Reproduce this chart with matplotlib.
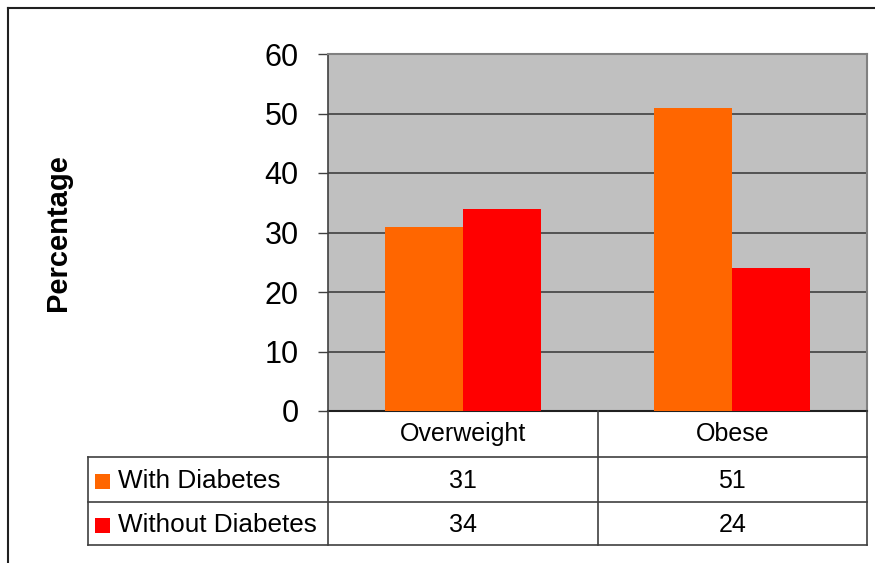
import matplotlib.pyplot as plt
import matplotlib.transforms as mtransforms
from matplotlib.lines import Line2D
from matplotlib.patches import Rectangle

categories = ["Overweight", "Obese"]
series_names = ["With Diabetes", "Without Diabetes"]
with_diabetes = [31, 51]
without_diabetes = [34, 24]
series_values = [with_diabetes, without_diabetes]
series_colors = ["#FF6600", "#FF0000"]
yticks = [0, 10, 20, 30, 40, 50, 60]

plt.rcParams['font.family'] = ['Liberation Sans', 'DejaVu Sans']

W, H = 875, 563
fig = plt.figure(figsize=(W / 100, H / 100), dpi=100, facecolor="white")

# plot area in pixel terms
left, right, top, bottom = 328, 867, 54, 411
ax = fig.add_axes([left / W, (H - bottom) / H, (right - left) / W, (bottom - top) / H])
ax.set_facecolor("#C0C0C0")

x = list(range(len(categories)))
bw = 0.29
offsets = [-bw / 2, bw / 2]
for vals, off, col in zip(series_values, offsets, series_colors):
    ax.bar([i + off for i in x], vals, width=bw, color=col, edgecolor="none", zorder=3)

ax.set_xlim(-0.5, len(categories) - 0.5)
ax.set_ylim(0, 60)
ax.set_yticks(yticks)
ax.set_yticklabels([str(t) for t in yticks], fontsize=22)
ax.tick_params(axis='y', length=7, width=1, color="#404040", pad=14)
ax.set_xticks([])
ax.yaxis.grid(True, color="#404040", linewidth=1.2, zorder=1)
ax.set_axisbelow(True)
for s in ["top", "right"]:
    ax.spines[s].set_color("#808080")
    ax.spines[s].set_linewidth(1.5)
ax.spines["left"].set_color("#404040")
ax.spines["bottom"].set_color("#202020")
ax.spines["left"].set_linewidth(1.2)
ax.spines["bottom"].set_linewidth(1.5)

fig.text(58 / W, (H - 233) / H, "Percentage", rotation=90, ha="center", va="center",
         fontsize=21, fontweight="bold")

# data table below the axes: x from the axes data, y in figure pixels
pix = mtransforms.Affine2D().scale(1 / W, -1 / H).translate(0, 1) + fig.transFigure
blend = mtransforms.blended_transform_factory(ax.transData, pix)
line_kw = dict(color="#404040", linewidth=1.2, clip_on=False)

row_y = [411, 457, 502, 545]
edges = [-0.5 + i for i in range(len(categories) + 1)]
legend_left = 88

# horizontal lines
for y in row_y[1:]:
    fig.add_artist(Line2D([legend_left / W, right / W], [(H - y) / H] * 2,
                          transform=fig.transFigure, **line_kw))
# vertical lines in the table
for e in edges:
    fig.add_artist(Line2D([e, e], [row_y[0], row_y[-1]], transform=blend, **line_kw))
fig.add_artist(Line2D([legend_left / W] * 2, [(H - row_y[1]) / H, (H - row_y[-1]) / H],
                      transform=fig.transFigure, **line_kw))

# header labels
for i, c in enumerate(categories):
    fig.text(i, (row_y[0] + row_y[1]) / 2, c, transform=blend, ha="center",
             va="center", fontsize=18)

# value rows with legend keys
for r, (name, vals, col) in enumerate(zip(series_names, series_values, series_colors)):
    yc = (row_y[r + 1] + row_y[r + 2]) / 2 + 1
    for i, v in enumerate(vals):
        fig.text(i, yc, str(v), transform=blend, ha="center", va="center", fontsize=18)
    fig.add_artist(Rectangle((95 / W, (H - yc - 8) / H), 15 / W, 15 / H,
                             transform=fig.transFigure, facecolor=col, edgecolor="none"))
    fig.text(118 / W, (H - yc) / H, name, ha="left", va="center", fontsize=18.8)

# outer chart border (clipped at right and bottom edge of picture)
border_kw = dict(color="#202020", linewidth=1.5, transform=fig.transFigure)
fig.add_artist(Line2D([8 / W, 1], [(H - 8) / H] * 2, **border_kw))
fig.add_artist(Line2D([8 / W] * 2, [(H - 8) / H, 0], **border_kw))

fig.savefig("out.png", dpi=100, facecolor="white")
